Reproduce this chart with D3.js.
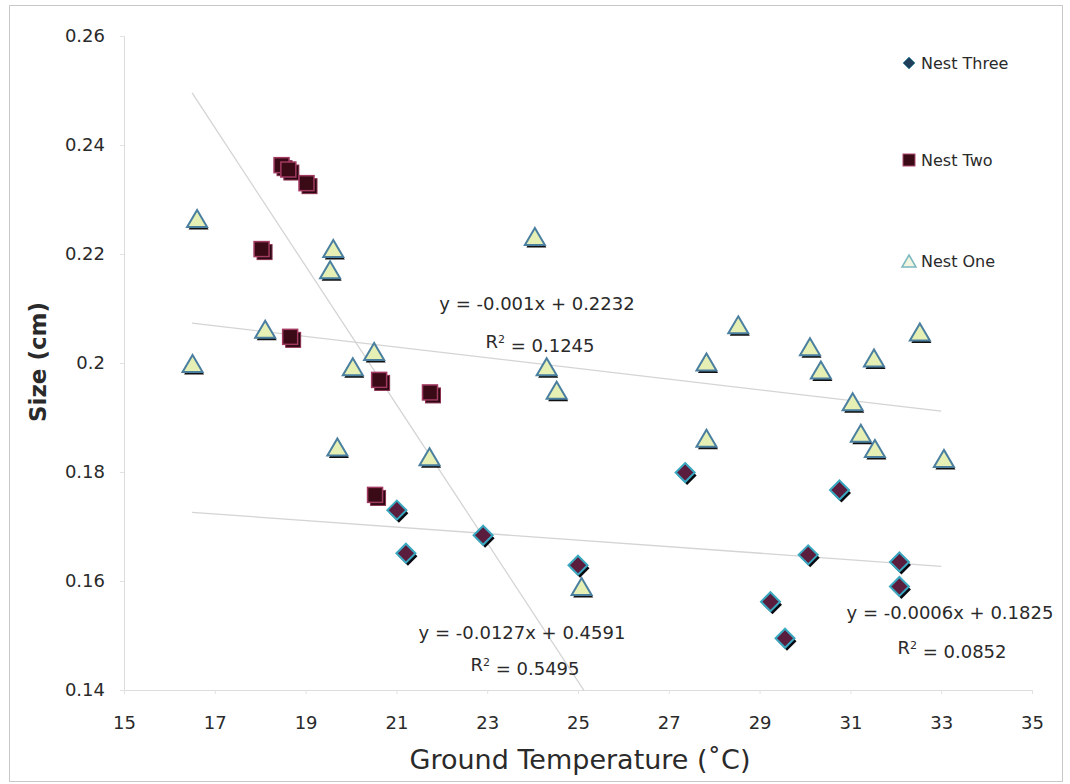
<!DOCTYPE html>
<html>
<head>
<meta charset="utf-8">
<script src="https://cdn.jsdelivr.net/npm/d3@7"></script>
<style>
  html, body { margin: 0; padding: 0; background: #fff; }
  svg { display: block; }
  text { font-family: "DejaVu Sans", Verdana, sans-serif; fill: #2a2a2a; }
</style>
</head>
<body>
<svg id="chart" width="1070" height="784"></svg>
<script>
// ---------------- data ----------------
const xTicks = [15, 17, 19, 21, 23, 25, 27, 29, 31, 33, 35];
const yTicks = [0.14, 0.16, 0.18, 0.2, 0.22, 0.24, 0.26];
const yTickLabels = ["0.14", "0.16", "0.18", "0.2", "0.22", "0.24", "0.26"];

const nestOneTemp = [16.61, 16.51, 18.11, 19.61, 19.54, 20.51, 20.04, 19.70, 21.73, 24.05, 24.31, 24.53, 25.08,
                     28.53, 27.83, 27.83, 30.11, 30.35, 31.52, 32.53, 31.05, 31.23, 31.54, 33.06];
const nestOneSize = [0.2265, 0.1999, 0.2062, 0.2210, 0.2171, 0.2021, 0.1993, 0.1846, 0.1828, 0.2232, 0.1993, 0.1950, 0.1590,
                     0.2070, 0.2002, 0.1862, 0.2030, 0.1987, 0.2009, 0.2057, 0.1929, 0.1871, 0.1843, 0.1825];

const nestTwoTemp = [18.47, 18.62, 19.02, 18.03, 18.66, 20.62, 21.74, 20.53];
const nestTwoSize = [0.2363, 0.2355, 0.2330, 0.2209, 0.2048, 0.1969, 0.1946, 0.1758];

const nestThreeTemp = [21.01, 21.21, 22.91, 25.00, 27.36, 30.76, 30.07, 32.08, 32.08, 29.24, 29.56];
const nestThreeSize = [0.1730, 0.1651, 0.1684, 0.1629, 0.1799, 0.1767, 0.1648, 0.1635, 0.1590, 0.1562, 0.1495];

// trendlines: slope, intercept, x range, label text
const trendSlopes = [-0.0127, -0.00098, -0.0006];
const trendIntercepts = [0.4591, 0.2235, 0.1825];
const trendXStart = [16.5, 16.5, 16.5];
const trendXEnd = [25.13, 33.0, 33.0];
const trendEqLabels = ["y = -0.0127x + 0.4591", "y = -0.001x + 0.2232", "y = -0.0006x + 0.1825"];
const trendR2Labels = ["0.5495", "0.1245", "0.0852"];

const legendNames = ["Nest Three", "Nest Two", "Nest One"];

// ---------------- layout ----------------
const svg = d3.select("#chart");
const x = d3.scaleLinear().domain([15, 35]).range([124, 1032]);
const y = d3.scaleLinear().domain([0.14, 0.26]).range([690, 36]);

// outer frame
svg.append("rect").attr("x", 9.5).attr("y", 5.5).attr("width", 1053).attr("height", 776)
  .attr("fill", "#fff").attr("stroke", "#c8c8c8").attr("stroke-width", 1);

// axes
const yAxis = d3.axisLeft(y).tickValues(yTicks).tickSize(4).tickPadding(15)
  .tickFormat((d, i) => yTickLabels[i]);
const gy = svg.append("g").attr("transform", "translate(124,0)").call(yAxis);
const xAxis = d3.axisBottom(x).tickValues(xTicks).tickSize(4).tickPadding(22).tickFormat(d3.format("d"));
const gx = svg.append("g").attr("transform", "translate(0,690)").call(xAxis);
[gx, gy].forEach(g => {
  g.select(".domain").attr("stroke", "#dcdcdc");
  g.selectAll(".tick line").attr("stroke", "#e2e2e2");
  g.selectAll(".tick text").attr("font-size", 18).attr("fill", "#2a2a2a")
    .attr("font-family", "DejaVu Sans, Verdana, sans-serif");
});

// axis titles
svg.append("text").attr("x", 580).attr("y", 769).attr("text-anchor", "middle")
  .attr("font-size", 27).text("Ground Temperature (˚C)");
svg.append("text").attr("transform", "translate(46,362) rotate(-90)").attr("text-anchor", "middle")
  .attr("font-size", 23).attr("font-weight", "bold").text("Size (cm)");

// trendlines
const trendIdx = d3.range(trendSlopes.length);
svg.append("g").selectAll("line").data(trendIdx).join("line")
  .attr("x1", i => x(trendXStart[i]))
  .attr("y1", i => y(trendSlopes[i] * trendXStart[i] + trendIntercepts[i]))
  .attr("x2", i => x(trendXEnd[i]))
  .attr("y2", i => y(trendSlopes[i] * trendXEnd[i] + trendIntercepts[i]))
  .attr("stroke", "#d4d4d4").attr("stroke-width", 1.3);

// equation labels
const eqPos = [[522, 633, 525, 665], [537, 304, 540, 342], [950, 613, 952, 648]];
trendIdx.forEach(i => {
  svg.append("text").attr("x", eqPos[i][0]).attr("y", eqPos[i][1]).attr("dy", "0.35em")
    .attr("text-anchor", "middle").attr("font-size", 18).text(trendEqLabels[i]);
  const t = svg.append("text").attr("x", eqPos[i][2]).attr("y", eqPos[i][3]).attr("dy", "0.35em")
    .attr("text-anchor", "middle").attr("font-size", 18);
  t.append("tspan").text("R");
  t.append("tspan").attr("dy", "-0.5em").attr("font-size", 11).text("2");
  t.append("tspan").attr("dy", "0.5em").text(" = " + trendR2Labels[i]);
});

// marker drawers
function triangle(g, cx, cy, s) {
  const h = s * 0.85;
  const p = `M${cx},${cy - h / 2} L${cx + s / 2},${cy + h / 2} L${cx - s / 2},${cy + h / 2} Z`;
  g.append("path").attr("d", p).attr("transform", "translate(1.5,2.5)").attr("fill", "#111");
  g.append("path").attr("d", p).attr("fill", "#e6efb4").attr("stroke", "#4a7fa0").attr("stroke-width", 2);
}
function square(g, cx, cy, s) {
  g.append("rect").attr("x", cx - s / 2 + 3).attr("y", cy - s / 2 + 3).attr("width", s).attr("height", s)
    .attr("fill", "#2a0810").attr("stroke", "#8a3050").attr("stroke-width", 1);
  g.append("rect").attr("x", cx - s / 2).attr("y", cy - s / 2).attr("width", s).attr("height", s)
    .attr("fill", "#3a0a16").attr("stroke", "#a23a62").attr("stroke-width", 1.5);
}
function diamond(g, cx, cy, s) {
  const r = s / 2;
  const p = `M${cx},${cy - r} L${cx + r},${cy} L${cx},${cy + r} L${cx - r},${cy} Z`;
  g.append("path").attr("d", p).attr("transform", "translate(2,3)").attr("fill", "#0a0a12");
  g.append("path").attr("d", p).attr("fill", "#5a1d3e").attr("stroke", "#3aa8c0").attr("stroke-width", 2);
}

const gm = svg.append("g");
nestThreeTemp.forEach((t, i) => diamond(gm, x(t), y(nestThreeSize[i]), 19));
nestTwoTemp.forEach((t, i) => square(gm, x(t), y(nestTwoSize[i]), 15));
nestOneTemp.forEach((t, i) => triangle(gm, x(t), y(nestOneSize[i]), 20));

// legend
const legY = [63, 160, 261];
const lg = svg.append("g");
{
  const r = 6;
  lg.append("path").attr("d", `M909,${legY[0] - r} L${909 + r},${legY[0]} L909,${legY[0] + r} L${909 - r},${legY[0]} Z`)
    .attr("fill", "#1f3f5a").attr("stroke", "#4a90a8").attr("stroke-width", 1);
  lg.append("rect").attr("x", 903).attr("y", legY[1] - 6).attr("width", 12).attr("height", 12)
    .attr("fill", "#3a0a16").attr("stroke", "#b04a70").attr("stroke-width", 1);
  lg.append("path").attr("d", `M909,${legY[2] - 6} L916,${legY[2] + 6} L902,${legY[2] + 6} Z`)
    .attr("fill", "#f2f6e0").attr("stroke", "#7ab8c0").attr("stroke-width", 1.5);
}
legendNames.forEach((n, i) => {
  lg.append("text").attr("x", 921).attr("y", legY[i]).attr("dy", "0.35em")
    .attr("font-size", 16).text(n);
});
</script>
</body>
</html>
